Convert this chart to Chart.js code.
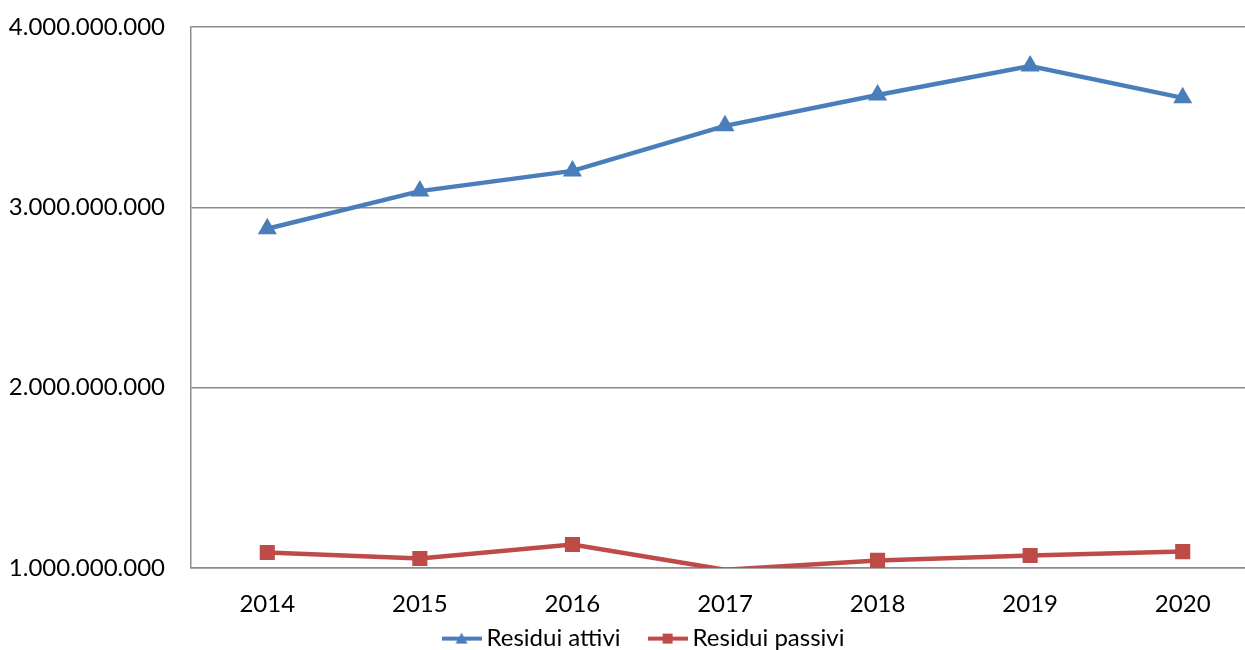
<!DOCTYPE html>
<html>
<head>
<meta charset="utf-8">
<script src="https://cdn.jsdelivr.net/npm/chart.js@4"></script>
<style>
  html, body { margin: 0; padding: 0; overflow: hidden; background: #fff; }
  #wrap { position: absolute; left: 0; top: 0; width: 1271px; height: 657px; }
</style>
</head>
<body>
<div id="wrap"><canvas id="chart"></canvas></div>
<script>
// data
const years = ['2014', '2015', '2016', '2017', '2018', '2019', '2020'];
const residuiAttivi = [2881000000, 3090000000, 3202000000, 3452000000, 3623000000, 3784000000, 3607000000];
const residuiPassivi = [1086000000, 1053000000, 1130000000, 990000000, 1042000000, 1069000000, 1091000000];
const yTicks = [1000000000, 2000000000, 3000000000, 4000000000];
const yMin = 1000000000;
const yMax = 4000000000;

const blue = '#4a7ebb';
const red = '#be4b48';
const font = { family: 'Lato', size: 24 };

// legend icon: short line with the marker in the middle
function legendIcon(color, style) {
  const c = document.createElement('canvas');
  c.width = 40; c.height = 14;
  const g = c.getContext('2d');
  g.strokeStyle = color;
  g.lineWidth = 4;
  g.beginPath(); g.moveTo(0, 7); g.lineTo(40, 7); g.stroke();
  g.fillStyle = color;
  if (style === 'triangle') {
    g.beginPath(); g.moveTo(20, 1); g.lineTo(26, 12); g.lineTo(14, 12); g.closePath(); g.fill();
  } else {
    g.fillRect(15, 2, 10, 10);
  }
  return c;
}

function fmt(v) {
  return v.toLocaleString('de-DE');
}

// markers of points below the axis are not drawn (as in the original)
function markerSize(r) {
  return function(ctx) {
    return ctx.raw < yMin ? 0 : r;
  };
}

// keep the legend short and place it under the year labels
const legendPlace = {
  id: 'legendPlace',
  beforeLayout: function(chart) {
    const lg = chart.legend;
    if (lg && !lg._fixed) {
      const fit = lg.fit;
      lg.fit = function() { fit.call(this); this.height = 37; };
      lg._fixed = true;
    }
  },
  afterLayout: function(chart) {
    const lg = chart.legend;
    if (!lg) return;
    lg.top = 641 - 34 - 14.4;
    lg.bottom = 700;
    lg.left += 11;
    lg.right += 11;
  }
};

new Chart(document.getElementById('chart'), {
  type: 'line',
  data: {
    labels: years,
    datasets: [{
      label: 'Residui attivi',
      data: residuiAttivi,
      borderColor: blue,
      backgroundColor: blue,
      borderWidth: 4.5,
      pointStyle: 'triangle',
      pointRadius: markerSize(6.5),
      tension: 0,
      clip: 0,
      legendIcon: legendIcon(blue, 'triangle')
    }, {
      label: 'Residui passivi',
      data: residuiPassivi,
      borderColor: red,
      backgroundColor: red,
      borderWidth: 4.5,
      pointStyle: 'rect',
      pointRadius: markerSize(7.5),
      tension: 0,
      clip: 0,
      legendIcon: legendIcon(red, 'rect')
    }]
  },
  plugins: [legendPlace],
  options: {
    responsive: true,
    maintainAspectRatio: false,
    animation: false,
    layout: { padding: 0 },
    plugins: {
      tooltip: { enabled: false },
      legend: {
        position: 'bottom',
        labels: {
          font: font,
          color: '#000',
          usePointStyle: true,
          pointStyleWidth: 26,
          boxHeight: 14,
          padding: 34,
          generateLabels: function(chart) {
            return chart.data.datasets.map(function(ds, i) {
              return {
                text: ds.label,
                pointStyle: ds.legendIcon,
                fillStyle: ds.borderColor,
                strokeStyle: ds.borderColor,
                lineWidth: 0,
                datasetIndex: i
              };
            });
          }
        }
      }
    },
    scales: {
      x: {
        offset: true,
        grid: { display: false, drawTicks: false },
        border: { color: '#8c8c8c', width: 1.5 },
        ticks: { font: font, color: '#000', padding: 22, maxRotation: 0 },
        afterFit: function(axis) { axis.height = 52; }
      },
      y: {
        min: yMin,
        max: yMax,
        afterBuildTicks: function(axis) {
          axis.ticks = yTicks.map(function(v) { return { value: v }; });
        },
        grid: { color: '#8c8c8c', lineWidth: 1.5, drawTicks: false },
        border: { color: '#8c8c8c', width: 1.5 },
        ticks: { font: font, color: '#000', padding: 26, callback: fmt },
        afterFit: function(axis) {
          axis.width = 191;
          axis.paddingTop = 27;
          axis.paddingBottom = 0;
        }
      }
    }
  }
});
</script>
</body>
</html>
